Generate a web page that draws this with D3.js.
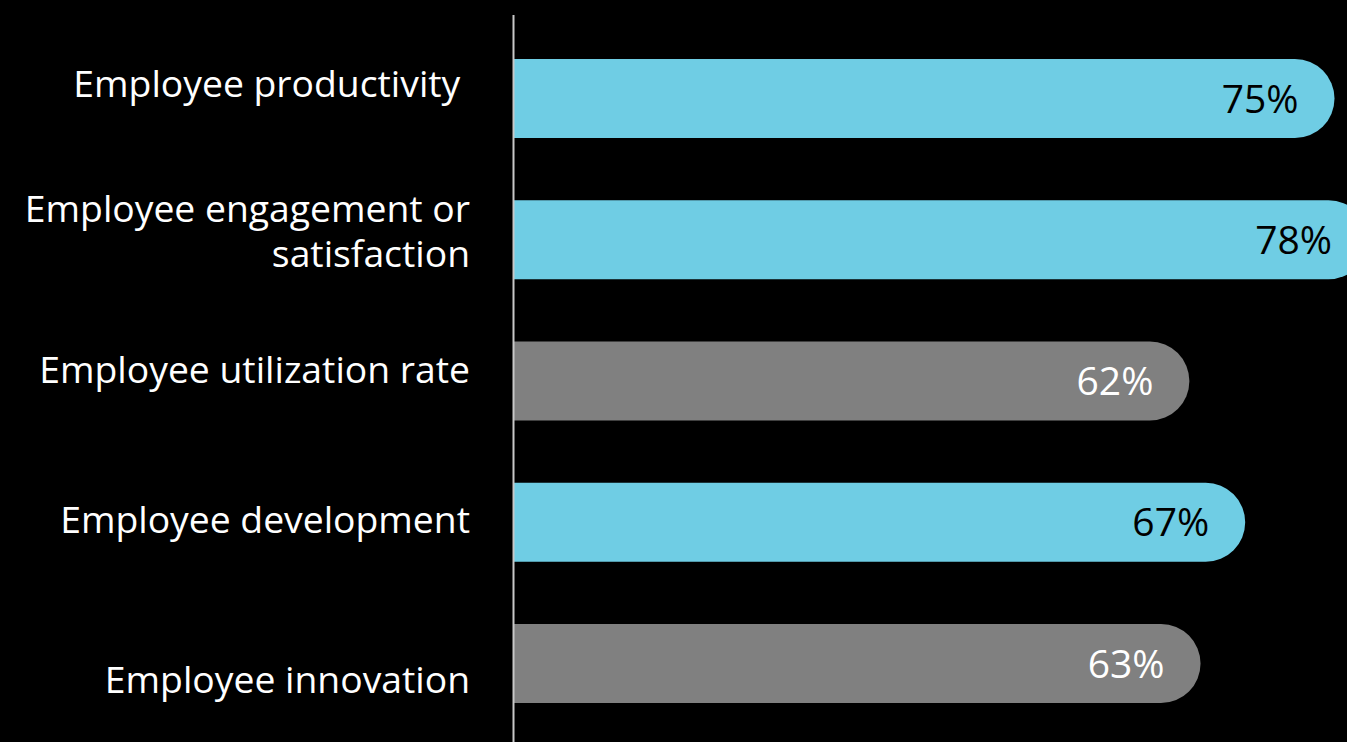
<!DOCTYPE html>
<html>
<head>
<meta charset="utf-8">
<script src="https://cdn.jsdelivr.net/npm/d3@7"></script>
<style>
  html, body { margin: 0; padding: 0; background: #000; overflow: hidden; }
  text { font-family: "Open Sans", sans-serif; }
</style>
</head>
<body>
<script>
// data
var categories = [
  "Employee productivity",
  "Employee engagement or satisfaction",
  "Employee utilization rate",
  "Employee development",
  "Employee innovation"
];
var labelLines = [
  ["Employee productivity "],
  ["Employee engagement or", "satisfaction"],
  ["Employee utilization rate"],
  ["Employee development"],
  ["Employee innovation"]
];
var values = [75, 78, 62, 67, 63];
var groups = ["key", "key", "other", "key", "other"];

// baseline nudges (px) relative to bar centre, as in the original slide
var labelNudge = [-2, 4.5, 2, 11, 29];

var width = 1347, height = 742;
var left = 514;

var svg = d3.select("body").append("svg")
    .attr("width", width)
    .attr("height", height);

var x = d3.scaleLinear().domain([1.5, 78]).range([0, 854]);

var y = d3.scaleBand()
    .domain(categories)
    .range([30.75, 731.35])
    .paddingInner(0.44)
    .paddingOuter(0.2);

var color = d3.scaleOrdinal()
    .domain(["key", "other"])
    .range(["#6fcde4", "#808080"]);

var textColor = d3.scaleOrdinal()
    .domain(["key", "other"])
    .range(["#000000", "#ffffff"]);

var rows = categories.map(function(c, i) {
  return {cat: c, value: values[i], group: groups[i], lines: labelLines[i], nudge: labelNudge[i]};
});

function barPath(d) {
  var h = y.bandwidth(), r = h / 2;
  var x0 = left, x1 = left + x(d.value), y0 = y(d.cat);
  return "M" + x0 + "," + y0 +
    "H" + (x1 - r) +
    "A" + r + "," + r + " 0 0 1 " + x1 + "," + (y0 + r) +
    "A" + r + "," + r + " 0 0 1 " + (x1 - r) + "," + (y0 + h) +
    "H" + x0 + "Z";
}

svg.selectAll(".bar")
    .data(rows)
  .enter().append("path")
    .attr("class", "bar")
    .attr("d", barPath)
    .attr("fill", function(d) { return color(d.group); });

// vertical axis line
svg.append("line")
    .attr("x1", 513.5).attr("x2", 513.5)
    .attr("y1", 15).attr("y2", height)
    .attr("stroke", "#c8c8c8")
    .attr("stroke-width", 2);

// value labels
svg.selectAll(".val")
    .data(rows)
  .enter().append("text")
    .attr("class", "val")
    .attr("x", function(d) { return left + x(d.value) - 36; })
    .attr("y", function(d) { return y(d.cat) + y.bandwidth() / 2; })
    .attr("dy", "0.36em")
    .attr("text-anchor", "end")
    .attr("font-size", 39)
    .attr("fill", function(d) { return textColor(d.group); })
    .text(function(d) { return d.value + "%"; });

// category labels
var lab = svg.selectAll(".lab")
    .data(rows)
  .enter().append("text")
    .attr("class", "lab")
    .attr("text-anchor", "end")
    .attr("font-size", 37.3)
    .attr("fill", "#ffffff")
    .style("white-space", "pre");

lab.selectAll("tspan")
    .data(function(d) {
      var n = d.lines.length, mid = y(d.cat) + y.bandwidth() / 2 + d.nudge;
      return d.lines.map(function(t, j) {
        return {t: t, y: mid + (j - (n - 1) / 2) * 45};
      });
    })
  .enter().append("tspan")
    .attr("x", 470)
    .attr("y", function(d) { return d.y; })
    .text(function(d) { return d.t; });
</script>
</body>
</html>
